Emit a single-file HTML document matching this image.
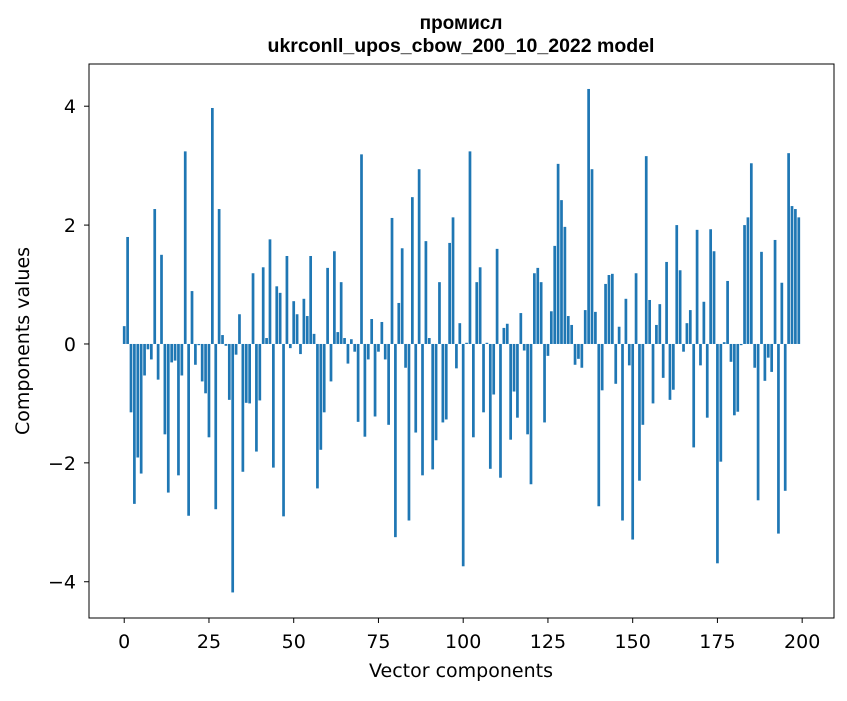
<!DOCTYPE html>
<html><head><meta charset="utf-8"><style>
body{margin:0;background:#fff;}
svg text{font-family:"DejaVu Sans","Liberation Sans",sans-serif;}
svg text.title{font-family:"Liberation Sans","DejaVu Sans",sans-serif;}
</style></head><body>
<svg id="chart" width="847" height="696" xmlns="http://www.w3.org/2000/svg">
<rect width="847" height="696" fill="#fff"/>
<text class="title" x="461" y="29" text-anchor="middle" font-size="19" font-weight="bold">промисл</text>
<text class="title" x="461" y="52" text-anchor="middle" font-size="19.5" font-weight="bold">ukrconll_upos_cbow_200_10_2022 model</text>
<g id="bars"></g>
<rect x="89" y="64" width="745" height="554" fill="none" stroke="#000" stroke-width="1"/>
<g id="ticks"></g>
<text x="461" y="677" text-anchor="middle" font-size="19">Vector components</text>
<text transform="translate(29,341) rotate(-90)" text-anchor="middle" font-size="19">Components values</text>
</svg>
<script>
const values=[0.30,1.80,-1.15,-2.69,-1.91,-2.18,-0.53,-0.09,-0.26,2.27,-0.60,1.50,-1.52,-2.50,-0.31,-0.28,-2.21,-0.53,3.24,-2.89,0.89,-0.35,-0.02,-0.63,-0.83,-1.57,3.97,-2.78,2.27,0.15,-0.03,-0.94,-4.18,-0.18,0.50,-2.15,-0.99,-1.00,1.19,-1.81,-0.95,1.29,0.10,1.76,-2.08,0.97,0.86,-2.90,1.48,-0.07,0.72,0.50,-0.17,0.76,0.47,1.48,0.17,-2.43,-1.78,-1.15,1.28,-0.63,1.56,0.20,1.04,0.10,-0.33,0.08,-0.13,-1.31,3.19,-1.56,-0.26,0.42,-1.22,-0.13,0.37,-0.26,-1.36,2.12,-3.25,0.69,1.61,-0.40,-2.97,2.47,-1.49,2.94,-2.21,1.73,0.10,-2.11,-1.62,1.04,-1.32,-1.27,1.70,2.13,-0.41,0.35,-3.74,0.02,3.24,-1.57,1.04,1.29,-1.15,0.02,-2.10,-0.85,1.60,-2.25,0.27,0.34,-1.61,-0.80,-1.24,0.52,-0.11,-1.52,-2.36,1.19,1.28,1.04,-1.32,-0.20,0.55,1.65,3.03,2.42,1.97,0.47,0.32,-0.35,-0.25,-0.40,0.57,4.29,2.94,0.54,-2.73,-0.78,1.01,1.16,1.18,-0.67,0.29,-2.97,0.76,-0.36,-3.29,1.19,-2.30,-1.36,3.16,0.74,-1.00,0.32,0.67,-0.57,1.38,-0.94,-0.77,2.00,1.24,-0.13,0.35,0.57,-1.74,1.92,-0.36,0.71,-1.24,1.93,1.56,-3.69,-1.98,0.03,1.06,-0.30,-1.20,-1.14,-0.02,2.00,2.13,3.04,-0.40,-2.63,1.55,-0.62,-0.23,-0.47,1.75,-3.19,1.03,-2.47,3.21,2.32,2.27,2.13];
const xTicks=[0,25,50,75,100,125,150,175,200];
const yTicks=[-4,-2,0,2,4];
const L=89,R=834,T=64,B=618;
const xmin=-10.39,xmax=209.39,ymin=-4.61,ymax=4.71;
const sx=v=>L+(v-xmin)/(xmax-xmin)*(R-L);
const sy=v=>B-(v-ymin)/(ymax-ymin)*(B-T);
const NS="http://www.w3.org/2000/svg";
const bars=document.getElementById('bars');
const bw=sx(0.8)-sx(0);
values.forEach((v,i)=>{
  const r=document.createElementNS(NS,'rect');
  const y0=sy(0),y1=sy(v);
  r.setAttribute('x',sx(i)-bw/2);
  r.setAttribute('y',Math.min(y0,y1));
  r.setAttribute('width',bw);
  r.setAttribute('height',Math.abs(y1-y0));
  r.setAttribute('fill','#1f77b4');
  
  
  bars.appendChild(r);
});
const tg=document.getElementById('ticks');
xTicks.forEach(t=>{
  const x=sx(t);
  const l=document.createElementNS(NS,'line');
  l.setAttribute('x1',x);l.setAttribute('x2',x);l.setAttribute('y1',B);l.setAttribute('y2',B+5);
  l.setAttribute('stroke','#000');
  
  
  tg.appendChild(l);
  const tx=document.createElementNS(NS,'text');
  tx.setAttribute('x',x);tx.setAttribute('y',B+30);tx.setAttribute('text-anchor','middle');tx.setAttribute('font-size','19');
  tx.textContent=t;
  
  
  tg.appendChild(tx);
});
yTicks.forEach(t=>{
  const y=sy(t);
  const l=document.createElementNS(NS,'line');
  l.setAttribute('x1',L-5);l.setAttribute('x2',L);l.setAttribute('y1',y);l.setAttribute('y2',y);
  l.setAttribute('stroke','#000');
  
  
  tg.appendChild(l);
  const tx=document.createElementNS(NS,'text');
  tx.setAttribute('x',L-13);tx.setAttribute('y',y+7);tx.setAttribute('text-anchor','end');tx.setAttribute('font-size','19');
  tx.textContent=t<0?'\u2212'+Math.abs(t):String(t);
  
  
  tg.appendChild(tx);
});
</script>
</body></html>
